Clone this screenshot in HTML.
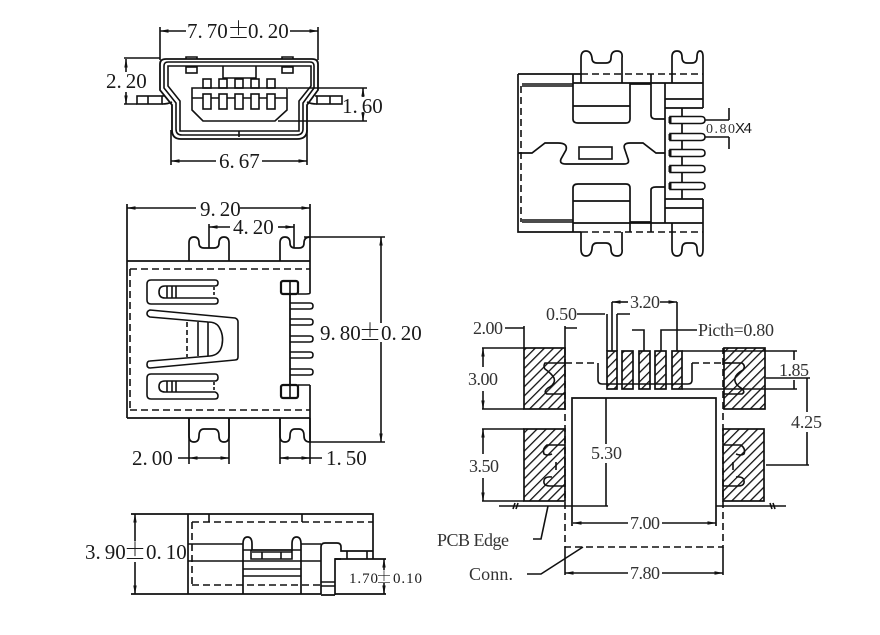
<!DOCTYPE html>
<html><head><meta charset="utf-8"><style>
html,body{margin:0;padding:0;background:#fff}
svg{display:block}
text{font-family:"Liberation Serif",serif;fill:#1a1a1a;font-size:21px}
.s{font-size:18px;fill:#333}
.p{font-family:"Noto Serif CJK SC","Liberation Serif",serif;text-anchor:middle;font-size:22px}
.d{stroke-dasharray:7 4}
</style></head><body>
<svg width="880" height="635" viewBox="0 0 880 635" xmlns="http://www.w3.org/2000/svg">
<defs>
<marker id="a" markerWidth="9" markerHeight="5" refX="8.5" refY="2.5" orient="auto-start-reverse" markerUnits="userSpaceOnUse"><path d="M0 .8L9 2.500L0 4.200Z" fill="#111"/></marker>
<pattern id="h" patternUnits="userSpaceOnUse" width="6.500" height="6.500" patternTransform="rotate(45)"><rect width="6.500" height="6.500" fill="#fff"/><line x1="0" y1="0" x2="0" y2="6.500" stroke="#111" stroke-width="2.600"/></pattern>
</defs>
<g fill="none" stroke="#111" stroke-width="1.600">

<!-- FRONT VIEW -->
<path stroke-width="1.800" d="M160 90V64Q160 59 166 59H312Q318 59 318 64V90L307 105V130Q307 139 297 139H181Q172 139 172 130V105Z"/>
<path d="M164 88V66Q164 62 168 62H310Q314 62 314 66V88L303 103V129Q303 135 296 135H182Q176 135 176 129V103Z"/>
<path d="M168 86V66H311V86L299 101V131H180V101Z"/>
<path d="M239 131V137M186 59V57H197V59M282 59V57H293V59"/>
<rect x="186" y="67" width="11" height="6"/><rect x="282" y="67" width="11" height="6"/>
<path d="M223 66V78H256V66"/>
<rect x="203" y="79" width="8" height="9"/><rect x="219" y="79" width="8" height="9"/><rect x="235" y="79" width="8" height="9"/><rect x="251" y="79" width="8" height="9"/><rect x="267" y="79" width="8" height="9"/>
<path d="M192 88H287V110L275 121H203L192 110Z"/>
<path d="M192 98H203M211 98H219M227 98H235M243 98H251M259 98H267M275 98H287"/>
<g fill="#fff"><rect x="203" y="94" width="8" height="15"/><rect x="219" y="94" width="8" height="15"/><rect x="235" y="94" width="8" height="15"/><rect x="251" y="94" width="8" height="15"/><rect x="267" y="94" width="8" height="15"/></g>
<rect x="137" y="96" width="25" height="8"/><path d="M148 96V104M162 96L165 96M162 104Q168 104 172 102"/>
<rect x="317" y="96" width="25" height="8"/><path d="M330 96V104M317 96H315M317 104Q311 104 307 102"/>
<path d="M160 60V27M318 60V27M171 130V165M307 130V165"/>
<path d="M186 31H160" marker-end="url(#a)"/><path d="M290 31H318" marker-end="url(#a)"/>
<path d="M216 161H171" marker-end="url(#a)"/><path d="M262 161H307" marker-end="url(#a)"/>
<path d="M124 58H160M124 104H137M288 88H367M278 121H367"/>
<path d="M126 72V59" marker-end="url(#a)"/><path d="M126 92V104" marker-end="url(#a)"/>
<path d="M363 97V88" marker-end="url(#a)"/><path d="M363 112V121" marker-end="url(#a)"/>

<!-- TOP RIGHT VIEW -->
<path stroke-width="1.700" d="M518 74H581M518 74V232H581M573 74V83M651 74V115Q651 119 656 119H665M665 83V223M651 232V190Q651 187 656 187H665"/>
<path class="d" d="M581 74H703M581 232H703"/>
<path d="M522 84H573M522 86H573M522 220H573M522 222H573"/>
<path class="d" d="M521 86V222"/>
<path stroke-width="1.700" d="M581 83V58Q581 51 586 51T592 58Q592 63 597 63H606Q611 63 611 58Q611 51 617 51T622 58V83"/>
<path stroke-width="1.700" d="M672 83V57Q672 51 677 51T682 57Q682 63 687 63H692Q697 63 697 57Q697 51 700 51T703 57V108"/>
<path stroke-width="1.700" d="M573 83H703M573 83V119Q573 123 578 123H626Q630 123 630 119V83M573 106H630M630 84H651M665 99H703M665 108H703M682 108V199"/>
<path stroke-width="1.700" d="M581 232V249Q581 256 586 256T592 249Q592 243 597 243H606Q611 243 611 249Q611 256 617 256T622 249V232"/>
<path stroke-width="1.700" d="M672 223V249Q672 256 677 256T682 249Q682 243 687 243H692Q697 243 697 249Q697 256 700 256T703 249V199"/>
<path stroke-width="1.700" d="M573 223H703M573 232V188Q573 184 578 184H626Q630 184 630 188V232M573 201H630M630 222H651M665 199H703M665 208H703"/>
<path stroke-width="1.700" d="M518 153H532L545 143H558Q568 143 566 150L561 159Q559 164 566 164H624Q630 164 628 159L625 150Q622 143 630 143H643L656 153H665"/>
<rect x="579" y="147" width="33" height="12"/>
<g fill="#fff" stroke-width="1.600"><path d="M670 116.500H701Q705 116.500 705 120T701 123.500H670Z"/><path d="M670 133.500H701Q705 133.500 705 137T701 140.500H670Z"/><path d="M670 149.500H701Q705 149.500 705 153T701 156.500H670Z"/><path d="M670 165.500H701Q705 165.500 705 169T701 172.500H670Z"/><path d="M670 182.500H701Q705 182.500 705 186T701 189.500H670Z"/></g>
<path stroke-width="3" d="M670 117V123M670 134V140M670 150V156M670 166V172M670 183V189"/>
<path d="M705 120H729M705 137H729M729 108V120M729 137V149"/>

<!-- LEFT MAIN VIEW -->
<path stroke-width="1.700" d="M127 261H310M127 418H310M127 204V418M310 204V293"/>
<path class="d" d="M130 269H310M130 410H310M130 269V410"/>
<path stroke-width="1.700" d="M189 261V243Q189 237 194 237T199 243Q199 248 204 248H214Q219 248 219 243Q219 237 224 237T229 243V261"/>
<path stroke-width="1.700" d="M280 261V243Q280 237 285 237T290 243Q290 248 295 248H299Q304 248 304 243Q304 237 310 237"/>
<path stroke-width="1.700" d="M189 418V436Q189 442 194 442T199 436Q199 429 204 429H214Q219 429 219 436Q219 442 224 442T229 436V418"/>
<path stroke-width="1.700" d="M280 418V436Q280 442 285 442T290 436Q290 429 295 429H299Q304 429 304 436Q304 442 310 442V385"/>
<path d="M310 293Q310 294 306 294H298M310 385H298"/>
<rect x="281" y="281" width="17" height="13" rx="2" stroke-width="2.200"/><path d="M290 281V294"/>
<rect x="281" y="385" width="17" height="13" rx="2" stroke-width="2.200"/><path d="M290 385V398"/>
<path d="M290 294V385" stroke-width="1.800"/>
<path d="M290 303H310Q313 303 313 306T310 309H290M290 319H310Q313 319 313 322T310 325H290M290 336H310Q313 336 313 339T310 342H290M290 352H310Q313 352 313 355T310 358H290M290 369H310Q313 369 313 372T310 375H290"/>
<path d="M215 280H151Q147 280 147 284V300Q147 304 151 304H215Q218 304 218 301T215 298H165Q159 298 159 292T165 286H215Q218 286 218 283T215 280Z"/><path d="M167 286V298M172 286V298M176 286V298"/><path d="M214 287V297" stroke-dasharray="3 2"/>
<path d="M215 374H151Q147 374 147 378V395Q147 399 151 399H215Q218 399 218 396T215 392H165Q159 392 159 386.500T165 381H215Q218 381 218 377.500T215 374Z"/><path d="M167 381V392M172 381V392M176 381V392"/><path d="M214 382V392" stroke-dasharray="3 2"/>
<path stroke-width="1.600" d="M150 310L235 318Q238 319 238 322V357Q238 360 235 360L150 368Q147 368 147 364.500T150 361L210 356Q220 355 222 345Q224 335 219 327Q216 322 208 322L150 317Q147 316 147 313.500T150 310Z"/>
<path d="M198 322V356M208 322V356"/><path d="M187 322V357" stroke-dasharray="5 3"/>
<path d="M196 208H127" marker-end="url(#a)"/><path d="M240 208H310" marker-end="url(#a)"/>
<path d="M209 224V248M294 224V248"/>
<path d="M230 227H209" marker-end="url(#a)"/><path d="M278 227H294" marker-end="url(#a)"/>
<path d="M304 237H385M310 442H385"/>
<path d="M381 323V237" marker-end="url(#a)"/><path d="M381 342V442" marker-end="url(#a)"/>
<path d="M189 418V464M229 418V464M280 418V464M310 418V464"/>
<path d="M178 458H189M310 458H322"/>
<path d="M209 458H189" marker-end="url(#a)"/><path d="M209 458H229" marker-end="url(#a)"/>
<path d="M295 458H280" marker-end="url(#a)"/><path d="M295 458H310" marker-end="url(#a)"/>

<!-- BOTTOM SIDE VIEW -->
<path stroke-width="1.700" d="M131 514H373V559M131 594H243M188 514V594M243 594H321M335 594H386M335 559H386"/>
<path class="d" d="M192 522H373M192 522V585M192 585H321"/>
<path d="M209 514V522M302 514V522M188 544H243M188 561H243M301 544H321M301 561H321"/>
<path stroke-width="1.700" d="M243 594V544Q243 537 247.500 537T252 544V550H292V544Q292 537 296.500 537T301 544V594"/>
<path d="M243 550H252M292 550H301M251 550V559H292V550M262 552V559M281 552V559M243 561H301M243 569H301M243 576H301M252 552H292"/>
<path stroke-width="1.700" d="M321 594V547Q321 543 325 543H337Q341 543 341 547V551H373M335 595V559H341M321 595H335"/>
<path d="M321 582H335M321 586H335M347 551V559M367 551V559"/>
<path d="M135 541V514" marker-end="url(#a)"/><path d="M135 562V594" marker-end="url(#a)"/>
<path d="M384 570V559" marker-end="url(#a)"/><path d="M384 583V594" marker-end="url(#a)"/>

<!-- LAND PATTERN -->
<g stroke-width="1.700" fill="url(#h)">
<rect x="524" y="348" width="41" height="61"/><rect x="724" y="348" width="41" height="61"/>
<rect x="524" y="429" width="41" height="72"/><rect x="723" y="429" width="41" height="72"/>
<rect x="607" y="351" width="10" height="38"/><rect x="622" y="351" width="11" height="38"/><rect x="639" y="351" width="11" height="38"/><rect x="655" y="351" width="11" height="38"/><rect x="672" y="351" width="10" height="38"/>
</g>
<path d="M565 363H545Q543 366 545 369Q552 374 554 378Q556 384 548 388Q543 392 547 394H565"/>
<path d="M724 363H742Q746 366 743 370Q736 374 735 378Q734 384 741 388Q746 392 742 394H724"/>
<path d="M565 445H547Q542 449 544 454Q547 456 552 454M556 462V470M552 477Q543 476 544 483Q545 486 550 486H565"/>
<path d="M723 445H741Q746 449 744 454Q741 456 736 454M733 462V470M736 477Q745 476 744 483Q743 486 738 486H723"/>
<path class="d" d="M565 363H598M692 363H730"/>
<path d="M598 363V380Q598 384 602 384H688Q692 384 692 380V363"/>
<path stroke-width="1.700" d="M572 526V398H716V526"/>
<path class="d" d="M565 348V547H723V348"/>
<path d="M565 547V575M723 547V575M499 506H608M716 506H786"/>
<path d="M515 503L513 509M518 503L516 509M770 503L772 509M773 503L775 509"/>
<path d="M606 398V444M606 463V506"/>
<path d="M628 523H573" marker-end="url(#a)"/><path d="M662 523H716" marker-end="url(#a)"/>
<path d="M628 573H565" marker-end="url(#a)"/><path d="M662 573H723" marker-end="url(#a)"/>
<path d="M524 348V326M565 348V326M505 328H524M565 328H577M577 314H605M617 314H630M607 314V351M617 314V351"/>
<path d="M612 302V351M677 302V351"/>
<path d="M628 302H612" marker-end="url(#a)"/><path d="M660 302H677" marker-end="url(#a)"/>
<path d="M632 330H644V351M661 351V330H697"/>
<path d="M682 351H797M682 389H797"/>
<path d="M794 360V351M794 380V389M766 378H810M807 378V412M807 432V465M766 465H809"/>
<path d="M482 348H524M482 409H524M482 429H524M482 501H524"/>
<path d="M483 367V348" marker-end="url(#a)"/><path d="M483 391V409" marker-end="url(#a)"/>
<path d="M483 454V429" marker-end="url(#a)"/><path d="M483 478V501" marker-end="url(#a)"/>
<path d="M533 539H541L548 506"/>
<path d="M527 574H541L583 547"/>
</g>

<text x="187" y="38">7.<tspan dx="4">70</tspan></text><text class="p" x="238.500" y="38">±</text><text x="248" y="38">0.<tspan dx="4">20</tspan></text>
<text x="106" y="88">2.<tspan dx="4">20</tspan></text>
<text x="342" y="113">1.<tspan dx="4">60</tspan></text>
<text x="219" y="168">6.<tspan dx="4">67</tspan></text>
<text x="706" y="133" style="font-size:14px;fill:#333" textLength="29" lengthAdjust="spacing">0.80</text>
<text x="735" y="133" style="font-size:15px;font-family:'Liberation Sans',sans-serif" textLength="17" lengthAdjust="spacing">X4</text>
<text x="200" y="216">9.<tspan dx="4">20</tspan></text>
<text x="233" y="234">4.<tspan dx="4">20</tspan></text>
<text x="320" y="340">9.<tspan dx="4">80</tspan></text><text class="p" x="370" y="340">±</text><text x="381" y="340">0.<tspan dx="4">20</tspan></text>
<text x="132" y="465">2.<tspan dx="4">00</tspan></text>
<text x="326" y="465">1.<tspan dx="4">50</tspan></text>
<text x="85" y="559">3.<tspan dx="4">90</tspan></text><text class="p" x="135" y="559">±</text><text x="146" y="559">0.<tspan dx="4">10</tspan></text>
<text x="349" y="583" style="font-size:15px" textLength="29" lengthAdjust="spacing">1.70</text><text class="p" style="font-size:16px" x="384" y="583">±</text><text x="393" y="583" style="font-size:15px" textLength="29" lengthAdjust="spacing">0.10</text>
<text x="473" y="334" class="s" textLength="30" lengthAdjust="spacing">2.00</text>
<text x="546" y="320" class="s" textLength="31" lengthAdjust="spacing">0.50</text>
<text x="630" y="308" class="s" textLength="30" lengthAdjust="spacing">3.20</text>
<text x="698" y="336" class="s" textLength="76" lengthAdjust="spacing">Picth=0.80</text>
<text x="468" y="385" class="s" textLength="30" lengthAdjust="spacing">3.00</text>
<text x="469" y="472" class="s" textLength="30" lengthAdjust="spacing">3.50</text>
<text x="779" y="376" class="s" textLength="30" lengthAdjust="spacing">1.85</text>
<text x="791" y="428" class="s" textLength="31" lengthAdjust="spacing">4.25</text>
<text x="591" y="459" class="s" textLength="31" lengthAdjust="spacing">5.30</text>
<text x="630" y="529" class="s" textLength="30" lengthAdjust="spacing">7.00</text>
<text x="630" y="579" class="s" textLength="30" lengthAdjust="spacing">7.80</text>
<text x="437" y="546" class="s" textLength="72" lengthAdjust="spacing">PCB Edge</text>
<text x="469" y="580" class="s" textLength="44" lengthAdjust="spacing">Conn.</text>
</svg>
</body></html>
